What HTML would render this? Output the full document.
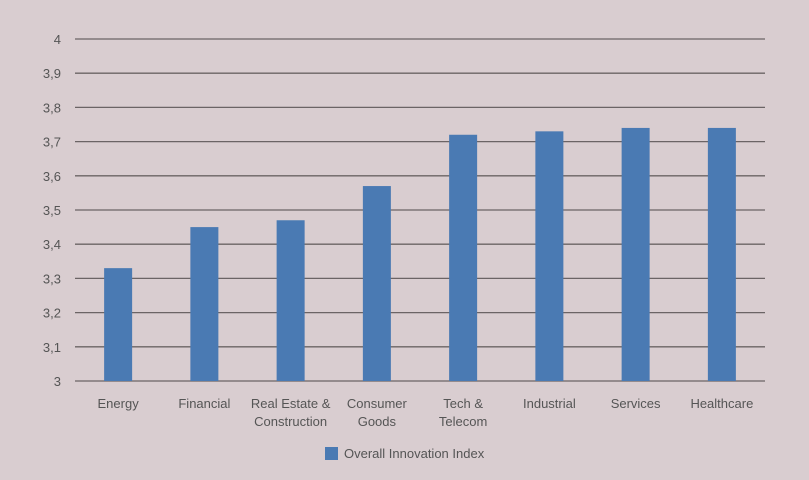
<!DOCTYPE html>
<html><head><meta charset="utf-8"><style>
html,body{margin:0;padding:0;background:#d9cdd0;}
svg{display:block;font-family:"Liberation Sans Narrow","Liberation Sans",sans-serif;}
</style></head><body>
<svg id="chart" width="809" height="480" viewBox="0 0 809 480">
<rect width="809" height="480" fill="#d9cdd0"/>
<g id="grid"></g><g id="bars"></g><g id="xlabels"></g>
<g>
<rect x="325" y="447" width="13" height="13" fill="#4a7ab3"/>
<text x="344" y="458" font-size="13" fill="#555">Overall Innovation Index</text>
</g>
</svg>
<script>
const categories=[["Energy"],["Financial"],["Real Estate &","Construction"],["Consumer","Goods"],["Tech &","Telecom"],["Industrial"],["Services"],["Healthcare"]];
const values=[3.33,3.45,3.47,3.57,3.72,3.73,3.74,3.74];
const ticks=[3,3.1,3.2,3.3,3.4,3.5,3.6,3.7,3.8,3.9,4];
const tickLabels=["3","3,1","3,2","3,3","3,4","3,5","3,6","3,7","3,8","3,9","4"];
const NS="http://www.w3.org/2000/svg";
const x0=75,x1=765,yB=381,yT=39,yMin=3,yMax=4;
const y=v=>yB-(v-yMin)/(yMax-yMin)*(yB-yT);
const band=(x1-x0)/categories.length;
const xc=i=>x0+band*(i+0.5);
function mk(t,a,p){const e=document.createElementNS(NS,t);for(const k in a)e.setAttribute(k,a[k]);p.appendChild(e);return e;}
const grid=document.getElementById('grid');
ticks.forEach((t,i)=>{
 const l=mk('line',{x1:x0,x2:x1,y1:y(t),y2:y(t),stroke:'#6b6465','stroke-width':1.3},grid);
 
 
 const tx=mk('text',{x:61,y:y(t)+5,'text-anchor':'end','font-size':13,fill:'#555'},grid);
 tx.textContent=tickLabels[i];
 
 
});
const bars=document.getElementById('bars'),xl=document.getElementById('xlabels');
values.forEach((v,i)=>{
 const r=mk('rect',{x:xc(i)-14,y:y(v),width:28,height:yB-y(v),fill:'#4a7ab3'},bars);
 
 
 categories[i].forEach((s,j)=>{
  const t=mk('text',{x:xc(i),y:408+j*18,'text-anchor':'middle','font-size':13,fill:'#555'},xl);
  t.textContent=s;
  
  
 });
});
</script>
</body></html>
